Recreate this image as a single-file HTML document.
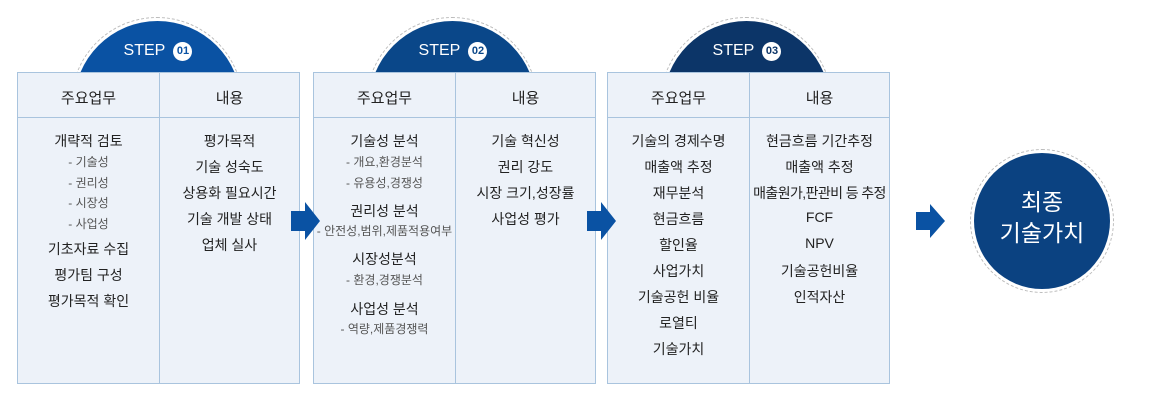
<!DOCTYPE html>
<html><head><meta charset="utf-8"><style>
body{margin:0;width:1150px;height:403px;background:#fff;position:relative;overflow:hidden;font-family:"Liberation Sans","Noto Sans CJK KR",sans-serif;}
.c{position:absolute;border-radius:50%;}
.panel{position:absolute;top:72px;width:283px;height:312px;background:#edf2f9;border:1px solid #a9c4de;box-sizing:border-box;}
.panel .hd{position:absolute;left:0;top:0;width:100%;height:44px;border-bottom:1px solid #a9c4de;}
.panel .dv{position:absolute;left:141px;top:0;width:1px;height:100%;background:#a9c4de;}
.t{position:absolute;width:141px;text-align:center;color:#222;font-size:14px;white-space:nowrap;}
.s{font-size:12px;color:#555;}
.h{font-size:15px;top:14px;}
.step{position:absolute;width:160px;text-align:center;top:42px;color:#fff;font-size:16px;}
.step b{display:inline-block;width:19px;height:19px;border-radius:50%;background:#fff;font-size:11px;line-height:19px;vertical-align:1px;margin-left:4px;}
.arr{position:absolute;}
</style></head><body>
<div class="c" style="left:71px;top:17px;width:172px;height:172px;border:1px dashed #bbb;box-sizing:border-box"></div>
<div class="c" style="left:74px;top:21px;width:167px;height:167px;background:#0a52a3"></div>
<div class="c" style="left:366px;top:17px;width:172px;height:172px;border:1px dashed #bbb;box-sizing:border-box"></div>
<div class="c" style="left:369px;top:21px;width:167px;height:167px;background:#0a4789"></div>
<div class="c" style="left:660px;top:17px;width:172px;height:172px;border:1px dashed #bbb;box-sizing:border-box"></div>
<div class="c" style="left:663px;top:21px;width:167px;height:167px;background:#0c3568"></div>
<div class="step" style="left:78px">STEP <b style="color:#0a52a3">01</b></div>
<div class="step" style="left:373px">STEP <b style="color:#0a4789">02</b></div>
<div class="step" style="left:667px">STEP <b style="color:#0c3568">03</b></div>

<div class="panel" style="left:17px"><div class="hd"></div><div class="dv"></div>
<div class="t h" style="left:0">주요업무</div><div class="t h" style="left:141px">내용</div>
<div class="t" style="left:0;top:58px">개략적 검토</div>
<div class="t s" style="left:0;top:80px">- 기술성</div>
<div class="t s" style="left:0;top:101px">- 권리성</div>
<div class="t s" style="left:0;top:121px">- 시장성</div>
<div class="t s" style="left:0;top:142px">- 사업성</div>
<div class="t" style="left:0;top:166px">기초자료 수집</div>
<div class="t" style="left:0;top:192px">평가팀 구성</div>
<div class="t" style="left:0;top:218px">평가목적 확인</div>
<div class="t" style="left:141px;top:58px">평가목적</div>
<div class="t" style="left:141px;top:84px">기술 성숙도</div>
<div class="t" style="left:141px;top:110px">상용화 필요시간</div>
<div class="t" style="left:141px;top:136px">기술 개발 상태</div>
<div class="t" style="left:141px;top:162px">업체 실사</div>
</div>

<div class="panel" style="left:313px"><div class="hd"></div><div class="dv"></div>
<div class="t h" style="left:0">주요업무</div><div class="t h" style="left:141px">내용</div>
<div class="t" style="left:0;top:58px">기술성 분석</div>
<div class="t s" style="left:0;top:80px">- 개요,환경분석</div>
<div class="t s" style="left:0;top:101px">- 유용성,경쟁성</div>
<div class="t" style="left:0;top:128px">권리성 분석</div>
<div class="t s" style="left:0;top:149px">- 안전성,범위,제품적용여부</div>
<div class="t" style="left:0;top:176px">시장성분석</div>
<div class="t s" style="left:0;top:198px">- 환경,경쟁분석</div>
<div class="t" style="left:0;top:226px">사업성 분석</div>
<div class="t s" style="left:0;top:247px">- 역량,제품경쟁력</div>
<div class="t" style="left:141px;top:58px">기술 혁신성</div>
<div class="t" style="left:141px;top:84px">권리 강도</div>
<div class="t" style="left:141px;top:110px">시장 크기,성장률</div>
<div class="t" style="left:141px;top:136px">사업성 평가</div>
</div>

<div class="panel" style="left:607px"><div class="hd"></div><div class="dv"></div>
<div class="t h" style="left:0">주요업무</div><div class="t h" style="left:141px">내용</div>
<div class="t" style="left:0;top:58px">기술의 경제수명</div>
<div class="t" style="left:0;top:84px">매출액 추정</div>
<div class="t" style="left:0;top:110px">재무분석</div>
<div class="t" style="left:0;top:136px">현금흐름</div>
<div class="t" style="left:0;top:162px">할인율</div>
<div class="t" style="left:0;top:188px">사업가치</div>
<div class="t" style="left:0;top:214px">기술공헌 비율</div>
<div class="t" style="left:0;top:240px">로열티</div>
<div class="t" style="left:0;top:266px">기술가치</div>
<div class="t" style="left:141px;top:58px">현금흐름 기간추정</div>
<div class="t" style="left:141px;top:84px">매출액 추정</div>
<div class="t" style="left:141px;top:110px;letter-spacing:-0.6px">매출원가,판관비 등 추정</div>
<div class="t" style="left:141px;top:136px">FCF</div>
<div class="t" style="left:141px;top:162px">NPV</div>
<div class="t" style="left:141px;top:188px">기술공헌비율</div>
<div class="t" style="left:141px;top:214px">인적자산</div>
</div>

<svg class="arr" style="left:0;top:0" width="1150" height="403">
<polygon points="291,211 305,211 305,202 320,221 305,240 305,231 291,231" fill="#0a52a3"/>
<polygon points="587,211 601,211 601,202 616,221 601,240 601,231 587,231" fill="#0a52a3"/>
<polygon points="916,212 930,212 930,204 945,221 930,238 930,230 916,230" fill="#0a52a3"/>
</svg>

<div class="c" style="left:970px;top:149px;width:144px;height:144px;border:1px dashed #bbb;box-sizing:border-box"></div>
<div class="c" style="left:974px;top:153px;width:136px;height:136px;background:#0b4281"></div>
<div style="position:absolute;left:974px;top:187px;width:136px;text-align:center;color:#fff;font-size:23px;line-height:31px">최종<br>기술가치</div>
</body></html>
